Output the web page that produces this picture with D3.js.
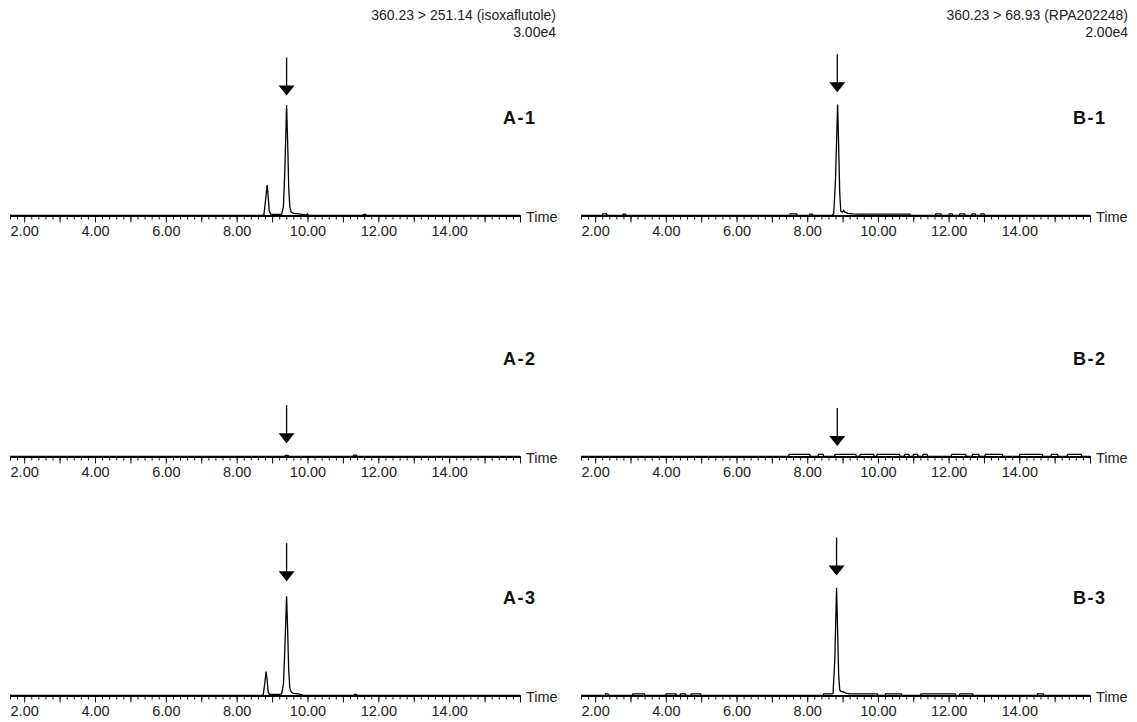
<!DOCTYPE html>
<html><head><meta charset="utf-8">
<script src="https://cdn.jsdelivr.net/npm/d3@7"></script>
<style>body{margin:0;background:#fff;} svg{display:block;}</style>
</head><body><svg id="c" width="1137" height="722"></svg>
<script>
// ---------- data ----------
const timeDomain = [1.6, 16.0];
const tickLabelValues = [2, 4, 6, 8, 10, 12, 14];
const tickLabels = ["2.00", "4.00", "6.00", "8.00", "10.00", "12.00", "14.00"];
const headerA = ["360.23 > 251.14 (isoxaflutole)", "3.00e4"];
const headerB = ["360.23 > 68.93 (RPA202248)", "2.00e4"];
const panelNames = ["A-1", "A-2", "A-3", "B-1", "B-2", "B-3"];
const arrowTimes = [9.41, 9.41, 9.41, 8.85, 8.85, 8.83];
const arrowLevels = [108, 12, 103, 111, 9.5, 108]; // % of full scale at arrow tip

// relative intensity (%) vs retention time (min)
const traceA1 = [[1.6,0],[8.72,0],[8.77,0.8],[8.81,12],[8.86,27.5],[8.89,17],[8.92,4],[8.96,1.2],[9.05,1],[9.2,1],[9.27,1.2],[9.32,8],[9.36,40],[9.41,99.5],[9.44,65],[9.47,25],[9.5,8],[9.54,3],[9.6,2],[9.75,1.5],[9.9,0.8],[9.97,0.4],[10.0,1.5],[10.03,0.3],[10.1,0],[11.55,0],[11.58,1],[11.64,1],[11.67,0],[16,0]];
const traceA2 = [[1.6,0],[9.35,0],[9.38,1],[9.45,1],[9.48,0],[11.28,0],[11.31,1.2],[11.38,1.2],[11.41,0],[16,0]];
const traceA3 = [[1.6,0],[8.7,0],[8.75,0.6],[8.79,10],[8.83,21.5],[8.86,14],[8.89,3],[8.93,1],[9.2,1],[9.27,1.5],[9.32,10],[9.36,42],[9.41,89.5],[9.44,58],[9.47,22],[9.5,7],[9.54,3],[9.6,2],[9.75,1.5],[9.85,0.5],[9.9,0],[11.3,0],[11.33,1],[11.38,1],[11.41,0],[16,0]];
const traceB1 = [[1.6,0],[2.2,0],[2.22,1.5],[2.32,1.5],[2.34,0],[2.78,0],[2.8,1.2],[2.86,1.2],[2.88,0],[7.5,0],[7.52,1.5],[7.7,1.5],[7.72,0],[8.05,0],[8.07,1.2],[8.15,1.2],[8.17,0],[8.7,0.3],[8.75,1.5],[8.8,32],[8.86,100],[8.89,62],[8.92,20],[8.95,4],[8.99,3],[9.03,4.5],[9.07,3],[9.15,2],[9.3,1.5],[9.45,1.2],[10.9,1.2],[10.93,0],[11.62,0],[11.64,1.5],[11.78,1.5],[11.8,0],[12.0,0],[12.02,1.5],[12.1,1.5],[12.12,0],[12.3,0],[12.32,1.5],[12.45,1.5],[12.47,0],[12.65,0],[12.67,1.5],[12.75,1.5],[12.77,0],[12.9,0],[12.92,1.5],[13.0,1.5],[13.02,0],[16,0]];
const traceB2 = [[1.6,0],[7.47,0],[7.49,2],[8.07,2],[8.09,0],[8.3,0],[8.32,2],[8.45,2],[8.47,0],[8.77,0],[8.79,2],[9.37,2],[9.39,0],[9.48,0],[9.5,2],[9.88,2],[9.9,0],[9.96,0],[9.98,2],[10.61,2],[10.63,0],[10.74,0],[10.76,2],[10.87,2],[10.89,0],[10.99,0],[11.01,2],[11.12,2],[11.14,0],[11.26,0],[11.28,2],[11.39,2],[11.41,0],[12.07,0],[12.09,2],[12.48,2],[12.5,0],[12.66,0],[12.68,2],[12.85,2],[12.87,0],[13.02,0],[13.04,2],[13.52,2],[13.54,0],[14.0,0],[14.02,2],[14.65,2],[14.67,0],[14.89,0],[14.91,2],[15.08,2],[15.1,0],[15.35,0],[15.37,2],[15.75,2],[15.77,0],[16,0]];
const traceB3 = [[1.6,0],[2.28,0],[2.3,1.5],[2.36,1.5],[2.38,0],[3.05,0],[3.07,1.5],[3.39,1.5],[3.41,0],[3.99,0],[4.01,1.5],[4.28,1.5],[4.3,0],[4.4,0],[4.42,1.5],[4.55,1.5],[4.57,0],[4.7,0],[4.72,1.5],[4.98,1.5],[5.0,0],[8.45,0],[8.47,1.5],[8.7,1.5],[8.73,2],[8.78,32],[8.83,97],[8.86,58],[8.89,18],[8.92,5],[8.96,3.5],[9.0,3.5],[9.1,2.2],[9.2,1.5],[9.98,1.5],[10.0,0],[10.2,0],[10.22,1.5],[10.66,1.5],[10.68,0],[11.2,0],[11.22,1.5],[12.18,1.5],[12.2,0],[12.3,0],[12.32,1.5],[12.68,1.5],[12.7,0],[14.5,0],[14.52,1.5],[14.68,1.5],[14.7,0],[16,0]];
const traces = [traceA1, traceA2, traceA3, traceB1, traceB2, traceB3];

// ---------- layout ----------
const svg = d3.select("#c");
const colRanges = [[10, 520], [581, 1090]];
const rowBaselines = [215.5, 456.5, 695.5];
const fullHeight = 111;
const font = "'Liberation Sans', Arial, sans-serif";

const minorTicks = d3.range(8, 81).map(i => i / 5);
const majorTicks = d3.range(2, 17);

[headerA, headerB].forEach((h, c) => {
  const xr = c === 0 ? 556 : 1128;
  h.forEach((t, i) => {
    svg.append("text").attr("x", xr).attr("y", 20 + i * 17)
      .attr("text-anchor", "end").attr("font-family", font).attr("font-size", 14)
      .attr("fill", "#222").text(t);
  });
});

panelNames.forEach((name, p) => {
  const c = Math.floor(p / 3), r = p % 3;
  const base = rowBaselines[r];
  const x = d3.scaleLinear().domain(timeDomain).range(colRanges[c]);
  const y = d3.scaleLinear().domain([0, 100]).range([base, base - fullHeight]);
  const g = svg.append("g");

  g.append("g").attr("transform", `translate(0,${base})`)
    .call(d3.axisBottom(x).tickValues(minorTicks).tickSize(4).tickSizeOuter(0).tickFormat(""))
    .call(s => s.select(".domain").remove())
    .call(s => s.selectAll("line").attr("stroke", "#111").attr("stroke-width", 1));
  g.append("g").attr("transform", `translate(0,${base})`)
    .call(d3.axisBottom(x).tickValues(majorTicks).tickSize(7).tickSizeOuter(0).tickFormat(""))
    .call(s => s.select(".domain").remove())
    .call(s => s.selectAll("line").attr("stroke", "#111").attr("stroke-width", 1));
  g.append("g").attr("transform", `translate(0,${base})`)
    .call(d3.axisBottom(x).tickValues(tickLabelValues).tickSize(0).tickSizeOuter(0).tickPadding(10.5)
      .tickFormat((d, i) => tickLabels[i]))
    .call(s => s.select(".domain").attr("stroke", "#000").attr("stroke-width", 2))
    .call(s => s.selectAll("text").attr("font-family", font).attr("font-size", 14.5).attr("fill", "#222"));

  g.append("text").attr("x", colRanges[c][1] + 6).attr("y", base + 6)
    .attr("font-family", font).attr("font-size", 14.5).attr("fill", "#222").text("Time");

  const line = d3.line().x(d => x(d[0])).y(d => y(d[1]));
  g.append("path").datum(traces[p]).attr("d", line)
    .attr("fill", "none").attr("stroke", "#000").attr("stroke-width", 1.3).attr("stroke-linejoin", "miter");

  const ax = x(arrowTimes[p]), tip = y(arrowLevels[p]);
  g.append("line").attr("x1", ax).attr("x2", ax).attr("y1", tip - 38).attr("y2", tip - 8)
    .attr("stroke", "#000").attr("stroke-width", 1.3);
  g.append("path").attr("d", `M${ax - 8},${tip - 10}L${ax + 8},${tip - 10}L${ax},${tip}Z`).attr("fill", "#000");

  g.append("text").attr("x", colRanges[c][1] - 17).attr("y", base - 91.5)
    .attr("font-family", font).attr("font-size", 18).attr("font-weight", "bold")
    .attr("letter-spacing", 1.5).attr("fill", "#111").text(name);
});
</script></body></html>
